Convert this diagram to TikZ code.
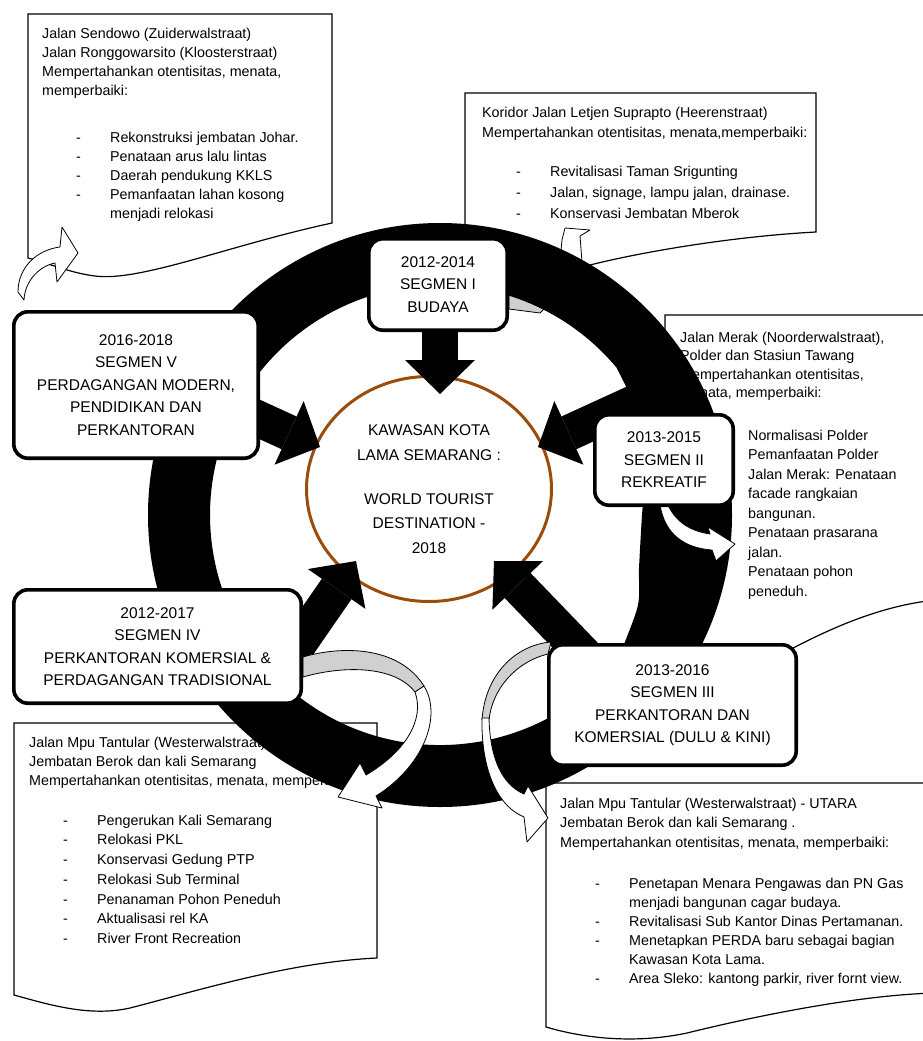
\documentclass[tikz,border=0pt]{standalone}
\usepackage{fontspec}
\setmainfont{Liberation Sans}
\usetikzlibrary{shapes.geometric,arrows.meta}
\definecolor{hubbrown}{RGB}{156,76,10}
\definecolor{foldgray}{RGB}{208,208,208}
\newcommand{\dashitem}{\makebox[34pt][l]{-}}
\newcommand{\itemgap}{\hspace*{34pt}}
\newcommand{\firstline}{\rule{0pt}{12pt}}
\begin{document}
\begin{tikzpicture}[x=1pt,y=-1pt,
  docbox/.style={draw=black,line width=1.2pt,fill=white},
  doctext/.style={anchor=north west,inner sep=0pt,align=left},
  segbox/.style={draw=black,line width=3.6pt,fill=white,rounded corners=14pt,
    align=center,inner sep=0pt,font=\fontsize{15.5}{22.5}\selectfont},
  bigarrow/.style={line width=36pt,-{Triangle[width=70pt,length=34pt,line width=0pt]}},
  ribbon/.style={draw=black,line width=0.8pt,fill=white,line join=round},
  ribbonback/.style={ribbon,fill=foldgray},
]
\useasboundingbox (0,0) rectangle (922,1041);

% ---------- note sheets ----------
\draw[docbox] (28,14) -- (332,14) -- (332,223) .. controls (230,245) and (140,282) .. (95,276)
  .. controls (70,273) and (45,262) .. (28,258) -- cycle;
\node[doctext,font=\fontsize{14.3}{19}\selectfont] (tlhead) at (42,26)
  {\firstline Jalan Sendowo (Zuiderwalstraat)\\Jalan Ronggowarsito (Kloosterstraat)\\
   Mempertahankan otentisitas, menata,\\memperbaiki:};
\node[doctext,font=\fontsize{14.3}{19}\selectfont] (tllist) at (76,130)
  {\firstline\dashitem Rekonstruksi jembatan Johar.\\\dashitem Penataan arus lalu lintas\\
   \dashitem Daerah pendukung KKLS\\\dashitem Pemanfaatan lahan kosong\\\itemgap menjadi relokasi};

\draw[docbox] (465,93) -- (816,93) -- (816,232) .. controls (740,236) and (650,250) .. (590,265)
  .. controls (540,277) and (500,273) .. (465,266) -- cycle;
\node[doctext,font=\fontsize{14.3}{20}\selectfont] (trhead) at (482,105)
  {\firstline Koridor Jalan Letjen Suprapto (Heerenstraat)\\Mempertahankan otentisitas, menata,memperbaiki:};
\node[doctext,font=\fontsize{14.3}{21}\selectfont] (trlist) at (516,164)
  {\firstline\dashitem Revitalisasi Taman Srigunting\\\dashitem Jalan, signage, lampu jalan, drainase.\\
   \dashitem Konservasi Jembatan Mberok};

\draw[docbox] (665,315) -- (935,315) -- (935,600) .. controls (880,606) and (830,628) .. (780,655)
  .. controls (740,676) and (700,672) .. (665,662) -- cycle;
\node[doctext,font=\fontsize{14.3}{18.5}\selectfont] (rhead) at (680,330)
  {\firstline Jalan Merak (Noorderwalstraat),\\Polder dan Stasiun Tawang\\
   Mempertahankan otentisitas,\\menata, memperbaiki:};
\node[doctext,font=\fontsize{14.3}{19.5}\selectfont] (rlist) at (748,428)
  {\firstline Normalisasi Polder\\Pemanfaatan Polder\\Jalan Merak: Penataan\\facade rangkaian\\
   bangunan.\\Penataan prasarana\\jalan.\\Penataan pohon\\peneduh.};

\draw[docbox] (546,783) -- (935,783) -- (935,993) .. controls (860,995) and (760,1015) .. (687,1033)
  .. controls (640,1043) and (590,1040) .. (546,1027) -- cycle;
\node[doctext,font=\fontsize{14.3}{19.5}\selectfont] (lrhead) at (560,796)
  {\firstline Jalan Mpu Tantular (Westerwalstraat) - UTARA\\Jembatan Berok dan kali Semarang .\\
   Mempertahankan otentisitas, menata, memperbaiki:};
\node[doctext,font=\fontsize{14.3}{19}\selectfont] (lrlist) at (595,876)
  {\firstline\dashitem Penetapan Menara Pengawas dan PN Gas\\\itemgap menjadi bangunan cagar budaya.\\
   \dashitem Revitalisasi Sub Kantor Dinas Pertamanan.\\\dashitem Menetapkan PERDA baru sebagai bagian\\
   \itemgap Kawasan Kota Lama.\\\dashitem Area Sleko: kantong parkir, river fornt view.};

\draw[docbox] (14,723) -- (377,723) -- (377,958) .. controls (290,962) and (200,990) .. (130,1008)
  .. controls (90,1017) and (50,1005) .. (14,995) -- cycle;
\node[doctext,font=\fontsize{14.3}{19}\selectfont] (llhead) at (29,735)
  {\firstline Jalan Mpu Tantular (Westerwalstraat)\\Jembatan Berok dan kali Semarang\\
   Mempertahankan otentisitas, menata, memperbaiki:};
\node[doctext,font=\fontsize{14.3}{19.7}\selectfont] (lllist) at (63,813)
  {\firstline\dashitem Pengerukan Kali Semarang\\\dashitem Relokasi PKL\\\dashitem Konservasi Gedung PTP\\
   \dashitem Relokasi Sub Terminal\\\dashitem Penanaman Pohon Peneduh\\\dashitem Aktualisasi rel KA\\
   \dashitem River Front Recreation};

% ---------- curved pointer passing behind the ring (segment I) ----------
\draw[ribbon] (560,262) -- (562,240) -- (565,228) -- (590,230) -- (580,236) -- (582,262) -- cycle;
\draw[ribbonback] (509,291) -- (548,305) -- (540,313) -- (509,309) -- cycle;

% ---------- black ring, wider on the right-hand side ----------
\fill[black,even odd rule] (440,515) circle[radius=292pt]
  (616.2,662.9) arc[start angle=40,end angle=320,radius=230]
  -- plot[smooth] coordinates {(616.2,367.1) (641.2,421.1) (645.4,471.3) (642,515)
     (639,568.3) (637.5,607.2) (616.2,662.9)} -- cycle;

% ---------- hub ----------
\node[ellipse,draw=hubbrown,line width=3pt,fill=white,minimum width=245pt,minimum height=225pt,
  inner sep=0pt,align=center,font=\fontsize{15.5}{24.5}\selectfont] (hub) at (429,489)
  {KAWASAN KOTA\\LAMA SEMARANG :\\[19.5pt]WORLD TOURIST\\DESTINATION -\\2018};

% ---------- block arrows into the hub ----------
\coordinate (srcI) at (440,318);   \coordinate (tipI) at (440,394);
\coordinate (srcII) at (656,393);  \coordinate (tipII) at (538,447);
\coordinate (srcIII) at (598,669); \coordinate (tipIII) at (494,561);
\coordinate (srcIV) at (282,668);  \coordinate (tipIV) at (356,561);
\coordinate (srcV) at (202,393);   \coordinate (tipV) at (320,447);
\draw[bigarrow] (srcI) -- (tipI);
\draw[bigarrow] (srcII) -- (tipII);
\draw[bigarrow] (srcIII) -- (tipIII);
\draw[bigarrow] (srcIV) -- (tipIV);
\draw[bigarrow] (srcV) -- (tipV);

% ---------- curved pointers to the note sheets ----------
\draw[ribbon] (18,292) .. controls (18,268) and (36,250) .. (60,247) -- (62,227) -- (78,253)
  -- (57,282) -- (55,263) .. controls (40,266) and (25,280) .. (24,300) -- cycle;
\draw[ribbon] (668,505) .. controls (676,522) and (690,531) .. (710,534) -- (708,527) -- (735,544)
  -- (716,561) -- (712,550) .. controls (685,548) and (665,535) .. (660,505) -- cycle;
\draw[ribbonback] (303,657) .. controls (340,646) and (398,645) .. (424,686) -- (415,692)
  .. controls (395,666) and (345,665) .. (303,677) -- cycle;
\draw[ribbon] (424,686) .. controls (442,715) and (425,765) .. (376,796) -- (382,808) -- (338,797)
  -- (360,763) -- (366,775) .. controls (405,752) and (425,720) .. (415,692) -- cycle;
\draw[ribbonback] (551,642) .. controls (515,645) and (485,675) .. (482,720) -- (489,720)
  .. controls (492,690) and (515,662) .. (548,654) -- cycle;
\draw[ribbon] (482,718) .. controls (481,765) and (495,805) .. (524,817) -- (527,842) -- (548,818)
  -- (528,786) -- (524,794) .. controls (503,785) and (490,760) .. (489,718) -- cycle;

% ---------- segments ----------
\node[segbox,minimum width=138.4pt,minimum height=91.4pt] (segI) at (438,284.5)
  {2012-2014\\SEGMEN I\\BUDAYA};
\node[segbox,minimum width=138.4pt,minimum height=90.4pt] (segII) at (664,460)
  {2013-2015\\SEGMEN II\\REKREATIF};
\node[segbox,minimum width=247.4pt,minimum height=120.4pt] (segIII) at (672.5,705)
  {2013-2016\\SEGMEN III\\PERKANTORAN DAN\\KOMERSIAL (DULU \& KINI)};
\node[segbox,minimum width=287.4pt,minimum height=113.4pt] (segIV) at (157.5,646.5)
  {2012-2017\\SEGMEN IV\\PERKANTORAN KOMERSIAL \&\\PERDAGANGAN TRADISIONAL};
\node[segbox,minimum width=244.4pt,minimum height=146.4pt] (segV) at (136,385)
  {2016-2018\\SEGMEN V\\PERDAGANGAN MODERN,\\PENDIDIKAN DAN\\PERKANTORAN};
\end{tikzpicture}
\end{document}
